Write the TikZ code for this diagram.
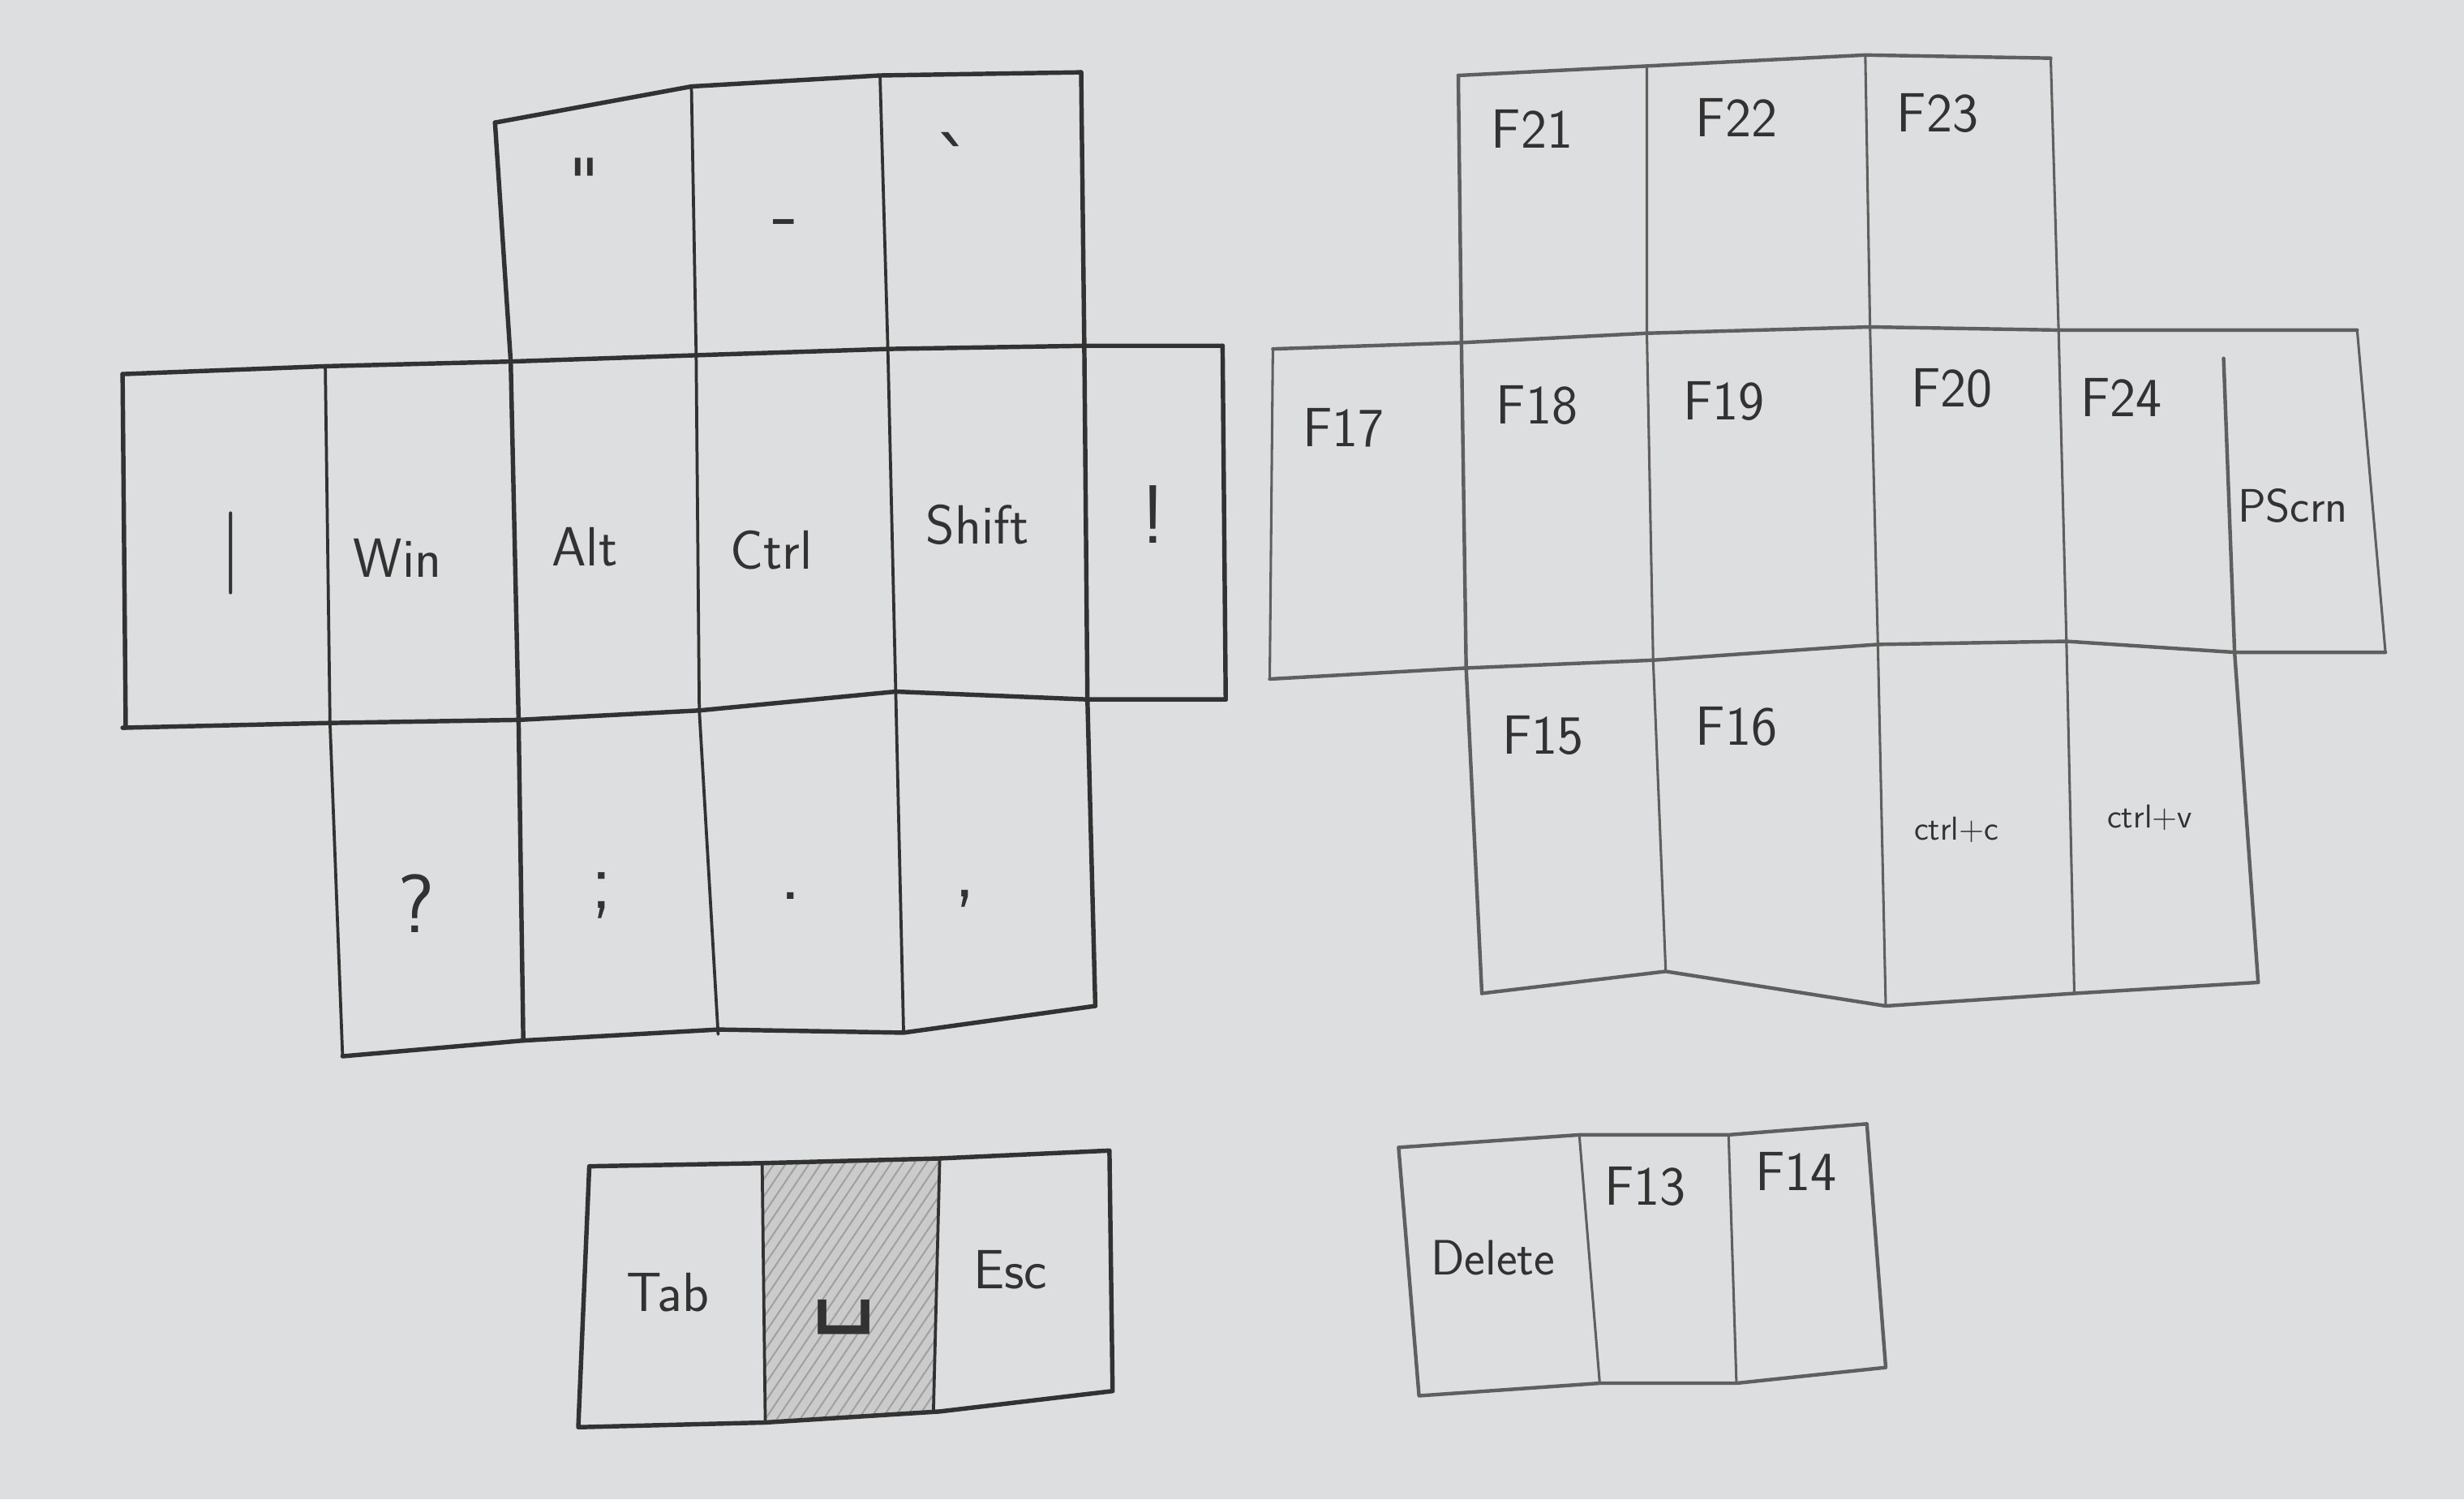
\documentclass[tikz,border=0pt]{standalone}
\usepackage{fontspec}
\newfontfamily\symfont{DejaVu Sans}
\usetikzlibrary{patterns.meta}
\definecolor{paper}{RGB}{221,222,223}
\definecolor{ink}{RGB}{50,50,50}
\definecolor{pencil}{RGB}{95,95,95}
\definecolor{spacefill}{RGB}{203,203,204}
\definecolor{hatch}{RGB}{160,160,160}
\begin{document}
\begin{tikzpicture}[x=0.02cm, y=-0.02cm, line join=round, line cap=round,
  edge/.style={ink, line width=1.6pt},
  thin edge/.style={ink, line width=1.1pt},
  pedge/.style={pencil, line width=1.3pt},
  thin pedge/.style={pencil, line width=0.9pt},
  lbl/.style={font=\sffamily\fontsize{20}{24}\selectfont, text=ink},
  sym lbl/.style={font=\sffamily\fontsize{30}{34}\selectfont, text=ink},
  small lbl/.style={font=\sffamily\fontsize{12}{14}\selectfont, text=ink}]
\fill[paper] (0,0) rectangle (1568,954);
\useasboundingbox (0,0) rectangle (1568,954);
% left hand
\draw[edge] (315,78) -- (440,55) -- (560,48) -- (688,46);
\draw[edge] (78,238) -- (207,233) -- (325,230) -- (443,226) -- (565,222) -- (690,220) -- (778,220);
\draw[edge] (78,463) -- (207,460) -- (330,458) -- (445,452) -- (570,440) -- (692,445) -- (780,445);
\draw[edge] (218,672) -- (333,662) -- (457,655) -- (575,657) -- (697,640);
\draw[edge] (78,238) -- (80,463);
\draw[thin edge] (207,233) -- (210,460) -- (218,672);
\draw[edge] (315,78) -- (325,230) -- (330,458) -- (333,662);
\draw[thin edge] (440,55) -- (443,226) -- (445,452) -- (457,658);
\draw[thin edge] (560,48) -- (565,222) -- (570,440) -- (575,657);
\draw[edge] (688,46) -- (690,220) -- (692,445) -- (697,640);
\draw[edge] (778,220) -- (780,445);
\node[sym lbl, font=\symfont\fontsize{24}{28}\selectfont] (dquote) at (372,116) {"};
\node[sym lbl] (dash) at (500,146) {-};
\node[sym lbl, font=\symfont\fontsize{28}{32}\selectfont] (grave) at (607,104) {`};
\node[sym lbl] (pipe) at (147,352) {|};
\node[lbl] (win) at (253,355) {Win};
\node[lbl] (alt) at (372,348) {Alt};
\node[lbl] (ctrl) at (491,350) {Ctrl};
\node[lbl] (shift) at (622,334) {Shift};
\node[sym lbl] (excl) at (734,327) {!};
\node[sym lbl] (quest) at (265,575) {?};
\node[sym lbl] (semi) at (383,570) {;};
\node[sym lbl] (period) at (503,570) {.};
\node[sym lbl] (comma) at (614,572) {,};
% right hand
\draw[pedge] (928,48) -- (1048,42) -- (1187,35) -- (1305,37);
\draw[pedge] (810,222) -- (930,218) -- (1048,212) -- (1190,208) -- (1310,210) -- (1500,210);
\draw[pedge] (808,432) -- (933,425) -- (1052,420) -- (1195,410) -- (1315,408) -- (1422,415) -- (1518,415);
\draw[pedge] (943,632) -- (1060,618) -- (1200,640) -- (1320,632) -- (1437,625);
\draw[thin pedge] (810,222) -- (808,432);
\draw[pedge] (928,48) -- (930,218) -- (933,425) -- (943,632);
\draw[thin pedge] (1048,42) -- (1048,212) -- (1052,420) -- (1060,618);
\draw[thin pedge] (1187,35) -- (1190,208) -- (1195,410) -- (1200,640);
\draw[thin pedge] (1305,37) -- (1310,210) -- (1315,408) -- (1320,632);
\draw[pedge] (1415,228) -- (1422,415) -- (1437,625);
\draw[thin pedge] (1500,210) -- (1518,415);
\node[lbl] (f21) at (975,82) {F21};
\node[lbl] (f22) at (1105,75) {F22};
\node[lbl] (f23) at (1233,72) {F23};
\node[lbl] (f17) at (855,272) {F17};
\node[lbl] (f18) at (978,258) {F18};
\node[lbl] (f19) at (1097,255) {F19};
\node[lbl] (f20) at (1242,247) {F20};
\node[lbl] (f24) at (1350,253) {F24};
\node[lbl, font=\sffamily\fontsize{17}{20}\selectfont] (pscrn) at (1459,322) {PScrn};
\node[lbl] (f15) at (982,468) {F15};
\node[lbl] (f16) at (1105,462) {F16};
\node[small lbl] (copy) at (1245,528) {ctrl+c};
\node[small lbl] (paste) at (1368,520) {ctrl+v};
% thumbs
\fill[spacefill] (485,740) -- (598,737) -- (594,898) -- (487,905) -- cycle;
\fill[pattern={Lines[angle=56, distance=3.5pt, line width=0.6pt]}, pattern color=hatch]
  (485,740) -- (598,737) -- (594,898) -- (487,905) -- cycle;
\draw[edge] (375,742) -- (485,740) -- (598,737) -- (706,732) -- (708,885) -- (598,898) -- (487,905) -- (368,908) -- cycle;
\draw[thin edge] (485,740) -- (487,905);
\draw[thin edge] (598,737) -- (594,898);
\node[lbl] (tab) at (425,822) {Tab};
\node[lbl, font=\symfont\fontsize{38}{42}\selectfont] (space) at (537,838) {␣};
\node[lbl] (esc) at (643,808) {Esc};
\draw[pedge] (890,730) -- (1005,722) -- (1100,722) -- (1188,715) -- (1200,870) -- (1105,880) -- (1018,880) -- (903,888) -- cycle;
\draw[thin pedge] (1005,722) -- (1018,880);
\draw[thin pedge] (1100,722) -- (1105,880);
\node[lbl, font=\sffamily\fontsize{18}{22}\selectfont] (delete) at (950,800) {Delete};
\node[lbl] (f13) at (1047,755) {F13};
\node[lbl] (f14) at (1143,745) {F14};
\end{tikzpicture}
\end{document}
